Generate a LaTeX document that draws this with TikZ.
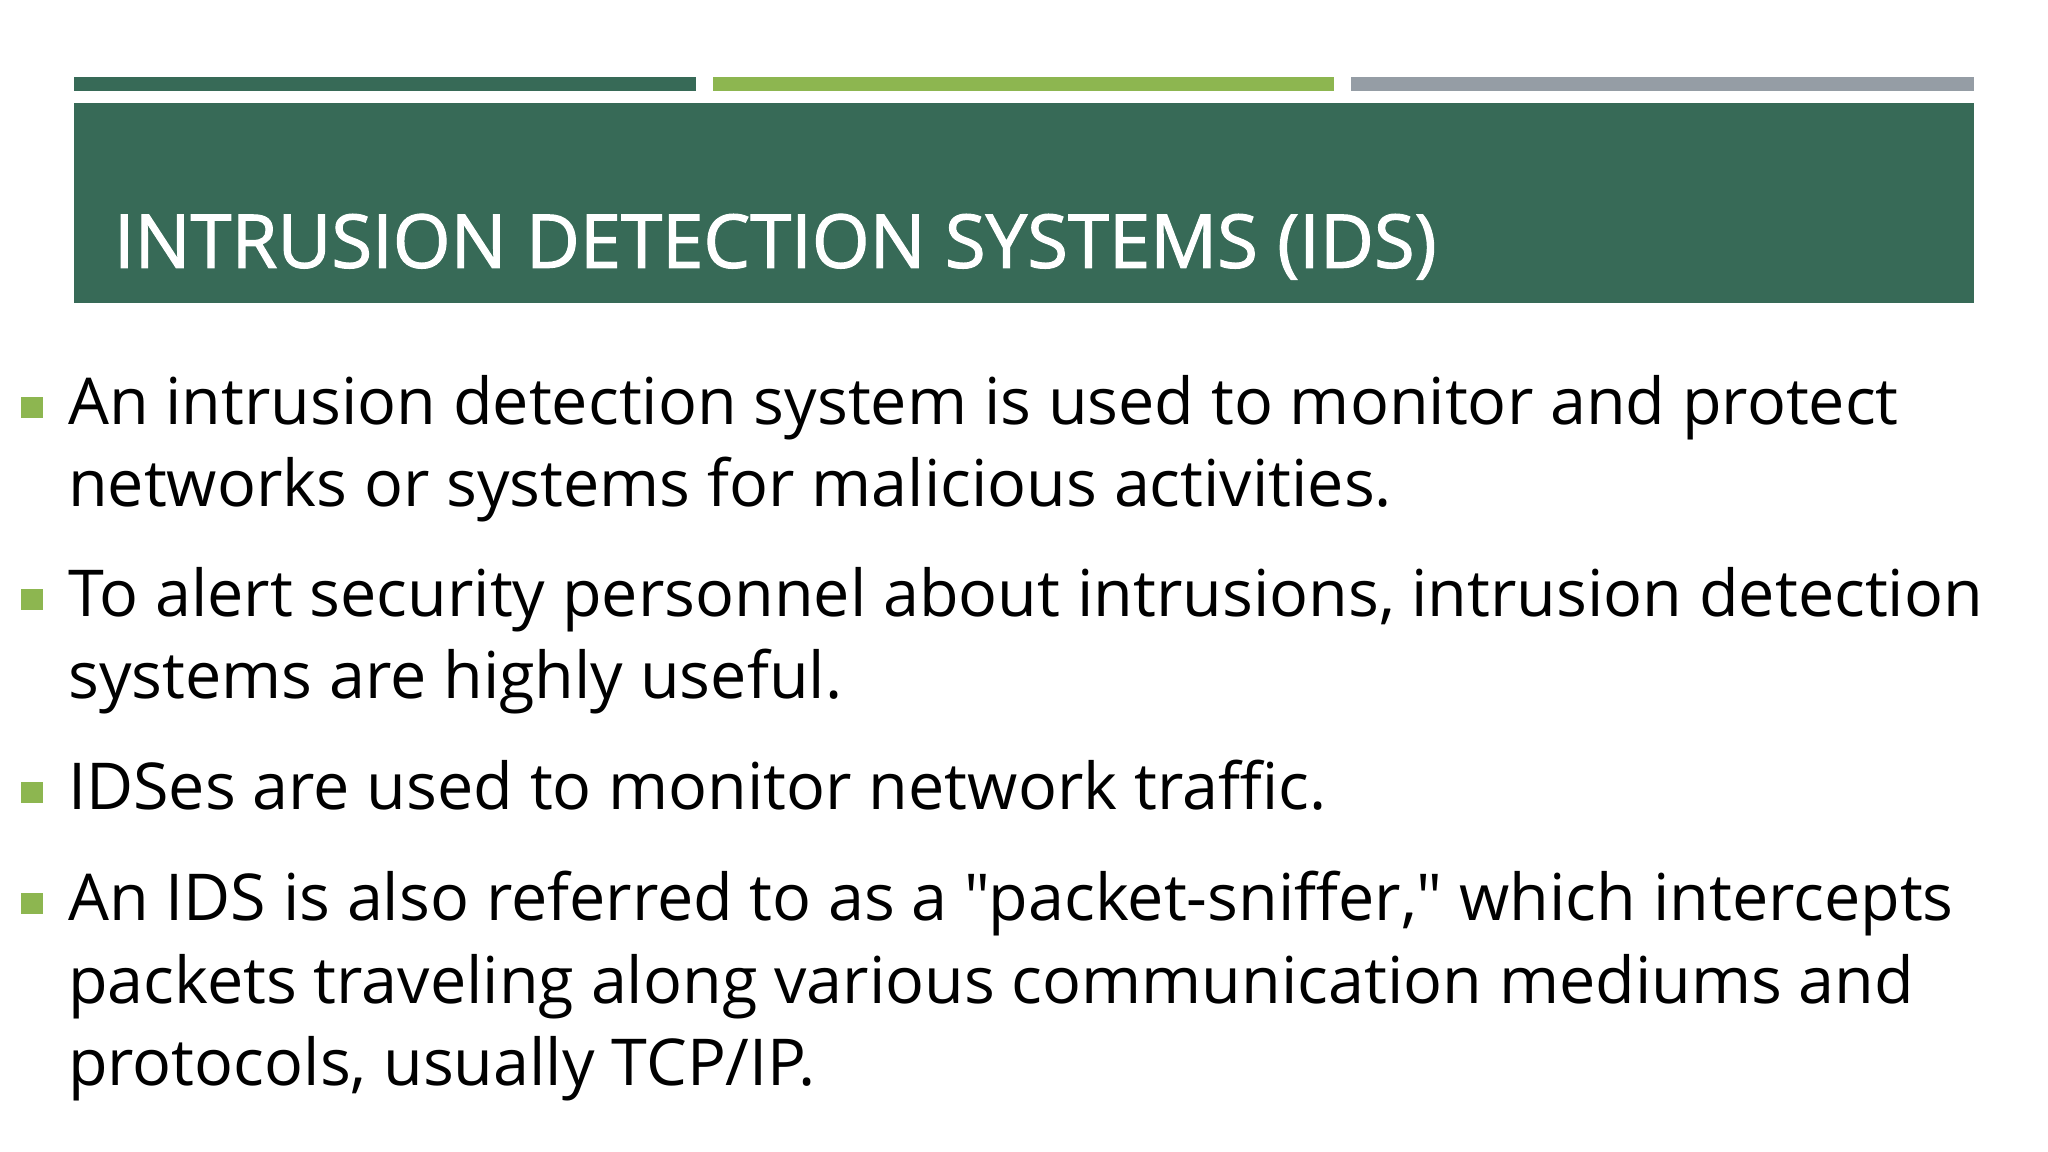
\documentclass[tikz,border=0pt]{standalone}
\usepackage{fontspec}
\setmainfont{Open Sans}[Ligatures=TeXOff]
\definecolor{dkgreen}{HTML}{376A57}
\definecolor{ltgreen}{HTML}{8DB650}
\definecolor{gray1}{HTML}{959DA5}
\begin{document}
\begin{tikzpicture}[x=1pt,y=-1pt,
  body/.style={anchor=base west,inner sep=0pt,font=\fontsize{49.5}{52}\selectfont},
  bul/.style={fill=ltgreen,draw=none}]
\useasboundingbox (0,0) rectangle (1568,882);
\fill[white] (0,0) rectangle (1568,882);
\fill[dkgreen] (57,59) rectangle (533,70);
\fill[ltgreen] (546,59) rectangle (1021,70);
\fill[gray1] (1034,59) rectangle (1511,70);
\fill[dkgreen] (57,79) rectangle (1511,232);
\node[anchor=base west,inner sep=0pt,text=white,font=\fontsize{56.8}{60}\selectfont\addfontfeatures{FakeBold=1.5}] (title) at (87,205) {INTRUSION DETECTION SYSTEMS (IDS)};
\foreach \y in {312,459,607,692} \fill[bul] (16,\y-8) rectangle (33,\y+8);
\node[body] (l1) at (52,325) {An intrusion detection system is used to monitor and protect};
\node[body] (l2) at (52,388) {networks or systems for malicious activities.};
\node[body] (l3) at (52,472) {To alert security personnel about intrusions, intrusion detection};
\node[body] (l4) at (52,535) {systems are highly useful.};
\node[body] (l5) at (52,620) {IDSes are used to monitor network traffic.};
\node[body] (l6) at (52,705) {An IDS is also referred to as a "packet-sniffer," which intercepts};
\node[body] (l7) at (52,768) {packets traveling along various communication mediums and};
\node[body] (l8) at (52,831) {protocols, usually TCP/IP.};
\end{tikzpicture}
\end{document}
